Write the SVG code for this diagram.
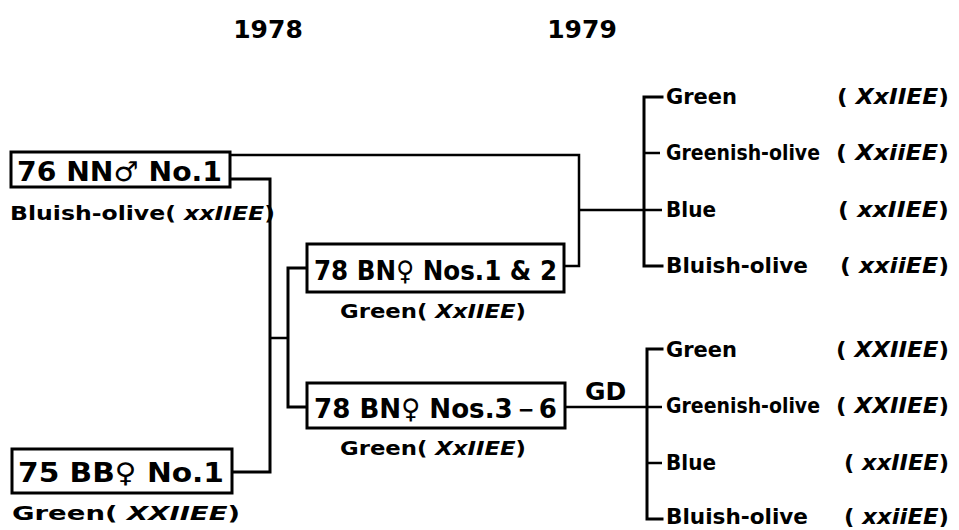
<svg xmlns="http://www.w3.org/2000/svg" width="959" height="530" viewBox="0 0 959 530">
<style>
text{font-family:"DejaVu Sans","Liberation Sans",Arial,sans-serif;font-weight:bold;fill:#000}
.yr{font-size:25px}
.bx{font-size:27px}
.lb{font-size:19px}
.rt{font-size:21px}
.it{font-style:italic}
.box{fill:#fff;stroke:#000;stroke-width:3}
.ln{fill:none;stroke:#000;stroke-width:3;stroke-linejoin:miter;stroke-linecap:square}
.th{fill:none;stroke:#000;stroke-width:2.5}
</style>
<g id="years">
<text class="yr" x="268" y="38" text-anchor="middle">1978</text>
<text class="yr" x="582" y="38" text-anchor="middle">1979</text>
</g>
<g id="connectors">
<polyline class="th" points="230,155 579,155 579,266 564,266"/>
<line class="th" x1="579" y1="210" x2="644" y2="210"/>
<polyline class="ln" points="662,97 644,97 644,266 662,266"/>
<line class="th" x1="644" y1="153" x2="660" y2="153"/>
<line class="th" x1="644" y1="210" x2="662" y2="210"/>
<polyline class="ln" points="230,179 270,179 270,472 232,472"/>
<line class="th" x1="270" y1="338" x2="288" y2="338"/>
<polyline class="ln" points="307,268 288,268 288,407 307,407"/>
<line class="th" x1="565" y1="407" x2="647" y2="407"/>
<polyline class="ln" points="662,349 647,349 647,519 662,519"/>
<line class="th" x1="647" y1="407" x2="662" y2="407"/>
<line class="th" x1="647" y1="463" x2="662" y2="463"/>
<text x="585" y="400" style="font-size:25px">GD</text>
</g>
<g id="n76NN">
<rect class="box" x="11" y="152" width="219" height="35"/>
<text class="bx" x="17" y="181" textLength="205" lengthAdjust="spacingAndGlyphs">76 NN♂ No.1</text>
<text class="lb" x="10" y="220" textLength="265" lengthAdjust="spacingAndGlyphs">Bluish-olive( <tspan class="it">xxIIEE</tspan>)</text>
</g>
<g id="n75BB">
<rect class="box" x="12" y="449" width="220" height="44"/>
<text class="bx" x="18" y="482" textLength="206" lengthAdjust="spacingAndGlyphs">75 BB♀ No.1</text>
<text class="lb" x="12" y="520" textLength="228" lengthAdjust="spacingAndGlyphs">Green( <tspan class="it">XXIIEE</tspan>)</text>
</g>
<g id="n78BN12">
<rect class="box" x="307" y="244" width="257" height="48"/>
<text class="bx" x="314" y="280" textLength="243" lengthAdjust="spacingAndGlyphs">78 BN♀ Nos.1 &amp; 2</text>
<text class="lb" x="340" y="318" textLength="186" lengthAdjust="spacingAndGlyphs">Green( <tspan class="it">XxIIEE</tspan>)</text>
</g>
<g id="n78BN36">
<rect class="box" x="307" y="383" width="258" height="45"/>
<text class="bx" x="314" y="418" textLength="243" lengthAdjust="spacingAndGlyphs">78 BN♀ Nos.3－6</text>
<text class="lb" x="340" y="455" textLength="186" lengthAdjust="spacingAndGlyphs">Green( <tspan class="it">XxIIEE</tspan>)</text>
</g>
<g id="progeny1979a">
<text class="rt" x="666" y="104" textLength="71" lengthAdjust="spacingAndGlyphs">Green</text>
<text class="rt" x="837" y="104" textLength="112" lengthAdjust="spacingAndGlyphs">( <tspan class="it">XxIIEE</tspan>)</text>
<text class="rt" x="666" y="160" textLength="154" lengthAdjust="spacingAndGlyphs">Greenish-olive</text>
<text class="rt" x="836" y="160" textLength="113" lengthAdjust="spacingAndGlyphs">( <tspan class="it">XxiiEE</tspan>)</text>
<text class="rt" x="666" y="217" textLength="50" lengthAdjust="spacingAndGlyphs">Blue</text>
<text class="rt" x="838" y="217" textLength="111" lengthAdjust="spacingAndGlyphs">( <tspan class="it">xxIIEE</tspan>)</text>
<text class="rt" x="666" y="273" textLength="142" lengthAdjust="spacingAndGlyphs">Bluish-olive</text>
<text class="rt" x="840" y="273" textLength="109" lengthAdjust="spacingAndGlyphs">( <tspan class="it">xxiiEE</tspan>)</text>
</g>
<g id="progeny1979b">
<text class="rt" x="666" y="357" textLength="71" lengthAdjust="spacingAndGlyphs">Green</text>
<text class="rt" x="836" y="357" textLength="113" lengthAdjust="spacingAndGlyphs">( <tspan class="it">XXIIEE</tspan>)</text>
<text class="rt" x="666" y="413" textLength="154" lengthAdjust="spacingAndGlyphs">Greenish-olive</text>
<text class="rt" x="836" y="413" textLength="113" lengthAdjust="spacingAndGlyphs">( <tspan class="it">XXIIEE</tspan>)</text>
<text class="rt" x="666" y="470" textLength="50" lengthAdjust="spacingAndGlyphs">Blue</text>
<text class="rt" x="844" y="470" textLength="105" lengthAdjust="spacingAndGlyphs">( <tspan class="it">xxIIEE</tspan>)</text>
<text class="rt" x="666" y="524" textLength="142" lengthAdjust="spacingAndGlyphs">Bluish-olive</text>
<text class="rt" x="844" y="524" textLength="105" lengthAdjust="spacingAndGlyphs">( <tspan class="it">xxiiEE</tspan>)</text>
</g>
</svg>
